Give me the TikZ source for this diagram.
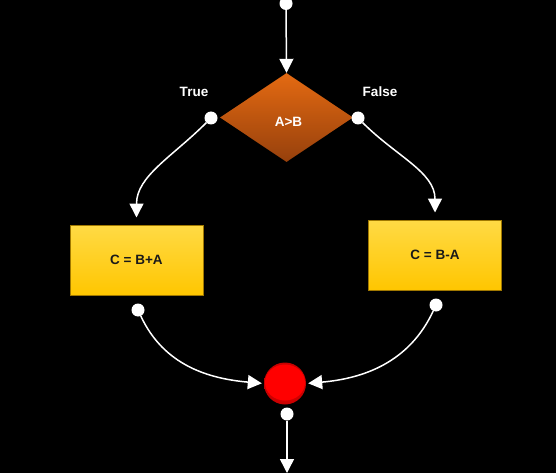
\documentclass[tikz,border=0pt]{standalone}
\usepackage{fontspec}
\setmainfont{Liberation Sans}
\usetikzlibrary{arrows.meta,shapes.geometric}
\definecolor{dia1}{HTML}{E46A12}
\definecolor{dia2}{HTML}{96400C}
\definecolor{box1}{HTML}{FFDA45}
\definecolor{box2}{HTML}{FFC600}
\definecolor{boxb}{HTML}{A07800}
\definecolor{red1}{HTML}{FF0000}
\definecolor{red2}{HTML}{C00000}
\begin{document}
\begin{tikzpicture}[x=1pt,y=1pt,
  lbl/.style={font=\fontsize{13.5}{15}\selectfont\bfseries},
  dot/.style={circle,fill=white,minimum size=13pt,inner sep=0pt},
  procbox/.style={rectangle,draw=boxb,line width=1pt,top color=box1,bottom color=box2,
    minimum width=133pt,minimum height=70pt,inner sep=0pt,lbl,text=black!90},
  decision/.style={diamond,top color=dia1,bottom color=dia2,aspect=1.494,
    minimum width=133pt,minimum height=89pt,inner sep=0pt},
  conn/.style={white,line width=1.5pt,-{Triangle[width=14pt,length=14pt]}}]
\fill[black] (0,0) rectangle (556,-473);
\clip (0,0) rectangle (556,-473);
\useasboundingbox (0,0) rectangle (556,-473);
% nodes
\node[decision] (dec) at (286.5,-117.5) {};
\node[lbl,text=white] (dectext) at (288.5,-121.5) {A>B};
\node[procbox] (left) at (136.5,-260) {C = B+A};
\node[procbox] (right) at (435,-255) {C = B-A};
\node[circle,minimum width=42pt,minimum height=39pt,inner sep=0pt,
  inner color=red1,outer color=red2!90!red1] (join) at (285,-383.5) {};
\node[ellipse,fill=red1,minimum width=40pt,minimum height=36pt,inner sep=0pt] at (285,-382.5) {};
\node[dot] (top) at (286,-3.5) {};
\node[dot] (dl) at (211,-118) {};
\node[dot] (dr) at (358,-118) {};
\node[dot] (bl) at (138,-310) {};
\node[dot] (br) at (436,-305) {};
\node[dot] (bot) at (287,-414) {};
\coordinate (end) at (287,-473);
\node[lbl,text=white] (tl) at (194,-92) {True};
\node[lbl,text=white] (fl) at (380,-92) {False};
% connectors
\draw[conn] (top) -- (dec.north);
\draw[conn,shorten >=7pt] (dl) to[out=-135,in=90] (left.north);
\draw[conn,shorten >=7pt] (dr) to[out=-45,in=90] (right.north);
\draw[conn,shorten >=2pt] (bl) to[out=-65,in=175] (join.west);
\draw[conn,shorten >=2pt] (br) to[out=-115,in=5] (join.east);
\draw[conn] (bot) -- (end);
\end{tikzpicture}
\end{document}
